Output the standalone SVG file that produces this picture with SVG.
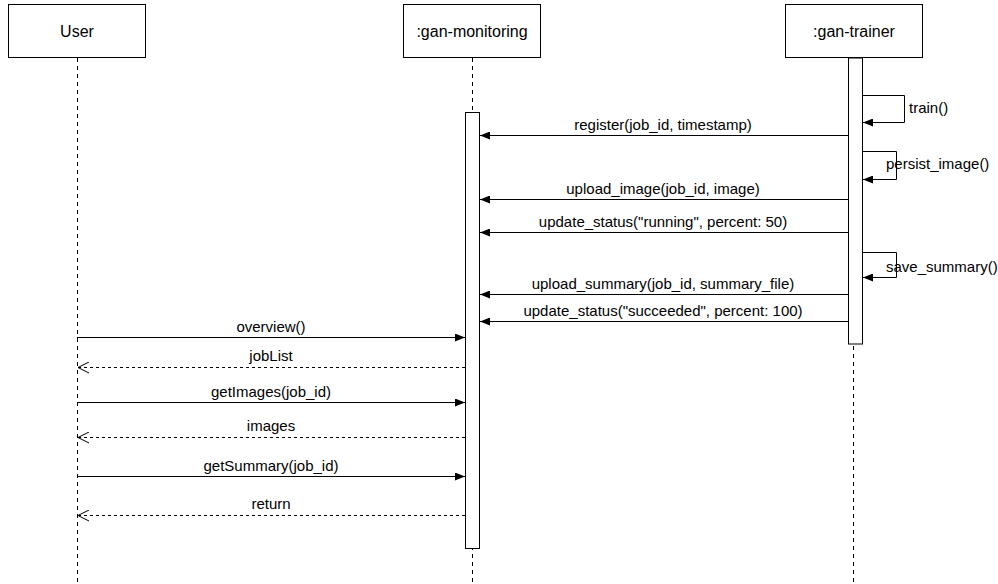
<svg xmlns="http://www.w3.org/2000/svg" width="998" height="584" viewBox="0 0 998 584">
<style>
.box{fill:#fff;stroke:#000;stroke-width:1}
.life{stroke:#000;stroke-width:1;stroke-dasharray:4,4;fill:none}
.msg{stroke:#000;stroke-width:1;fill:none}
.ret{stroke:#000;stroke-width:1;stroke-dasharray:3,3;fill:none}
text{font-family:"Liberation Sans",Arial,sans-serif;font-size:15px;fill:#000}
.title{font-size:16px;text-anchor:middle}
.lbl{text-anchor:middle}
</style>
<defs>
<marker id="filled" markerWidth="10" markerHeight="8" refX="10" refY="4" orient="auto" markerUnits="userSpaceOnUse">
<path d="M0,0 L10,4 L0,8 Z" fill="#000"/>
</marker>
<marker id="open" markerWidth="12" markerHeight="12" refX="11" refY="6" orient="auto" markerUnits="userSpaceOnUse">
<path d="M0,0.5 L11,6 L0,11.5" fill="none" stroke="#000" stroke-width="1"/>
</marker>
</defs>
<rect width="998" height="584" fill="#fff"/>
<g id="user">
<line class="life" x1="77.5" y1="58" x2="77.5" y2="584"/>
<rect class="box" x="8.5" y="4.5" width="137" height="53"/>
<text class="title" x="77" y="37">User</text>
</g>
<g id="gan-monitoring">
<line class="life" x1="472.5" y1="58" x2="472.5" y2="584"/>
<rect class="box" x="403.5" y="4.5" width="137" height="53"/>
<text class="title" x="472" y="37">:gan-monitoring</text>
<rect class="box" x="465.5" y="112.5" width="14" height="436"/>
</g>
<g id="gan-trainer">
<line class="life" x1="853.5" y1="58" x2="853.5" y2="584"/>
<rect class="box" x="785.5" y="4.5" width="137" height="53"/>
<text class="title" x="854" y="37">:gan-trainer</text>
<rect class="box" x="848.5" y="58" width="14" height="286"/>
</g>
<g id="connectors">
<polyline class="msg" points="862,95.5 904.5,95.5 904.5,122.5 863,122.5" marker-end="url(#filled)"/>
<text x="909" y="113">train()</text>
<polyline class="msg" points="862,151.5 896.5,151.5 896.5,179.5 863,179.5" marker-end="url(#filled)"/>
<text x="886" y="169">persist_image()</text>
<polyline class="msg" points="862,252.5 896.5,252.5 896.5,277.5 863,277.5" marker-end="url(#filled)"/>
<text x="886" y="272">save_summary()</text>

<line class="msg" x1="848" y1="135.5" x2="480" y2="135.5" marker-end="url(#filled)"/>
<text class="lbl" x="663" y="130">register(job_id, timestamp)</text>
<line class="msg" x1="848" y1="199.5" x2="480" y2="199.5" marker-end="url(#filled)"/>
<text class="lbl" x="663" y="194">upload_image(job_id, image)</text>
<line class="msg" x1="848" y1="232.5" x2="480" y2="232.5" marker-end="url(#filled)"/>
<text class="lbl" x="663" y="227">update_status("running", percent: 50)</text>
<line class="msg" x1="848" y1="294.5" x2="480" y2="294.5" marker-end="url(#filled)"/>
<text class="lbl" x="663" y="289">upload_summary(job_id, summary_file)</text>
<line class="msg" x1="848" y1="321.5" x2="480" y2="321.5" marker-end="url(#filled)"/>
<text class="lbl" x="663" y="316">update_status("succeeded", percent: 100)</text>

<line class="msg" x1="77" y1="337.5" x2="465" y2="337.5" marker-end="url(#filled)"/>
<text class="lbl" x="271" y="332">overview()</text>
<line class="ret" x1="465" y1="367.5" x2="78" y2="367.5" marker-end="url(#open)"/>
<text class="lbl" x="271" y="361">jobList</text>
<line class="msg" x1="77" y1="402.5" x2="465" y2="402.5" marker-end="url(#filled)"/>
<text class="lbl" x="271" y="397">getImages(job_id)</text>
<line class="ret" x1="465" y1="437.5" x2="78" y2="437.5" marker-end="url(#open)"/>
<text class="lbl" x="271" y="431">images</text>
<line class="msg" x1="77" y1="476.5" x2="465" y2="476.5" marker-end="url(#filled)"/>
<text class="lbl" x="271" y="471">getSummary(job_id)</text>
<line class="ret" x1="465" y1="515.5" x2="78" y2="515.5" marker-end="url(#open)"/>
<text class="lbl" x="271" y="509">return</text>
</g>
</svg>
